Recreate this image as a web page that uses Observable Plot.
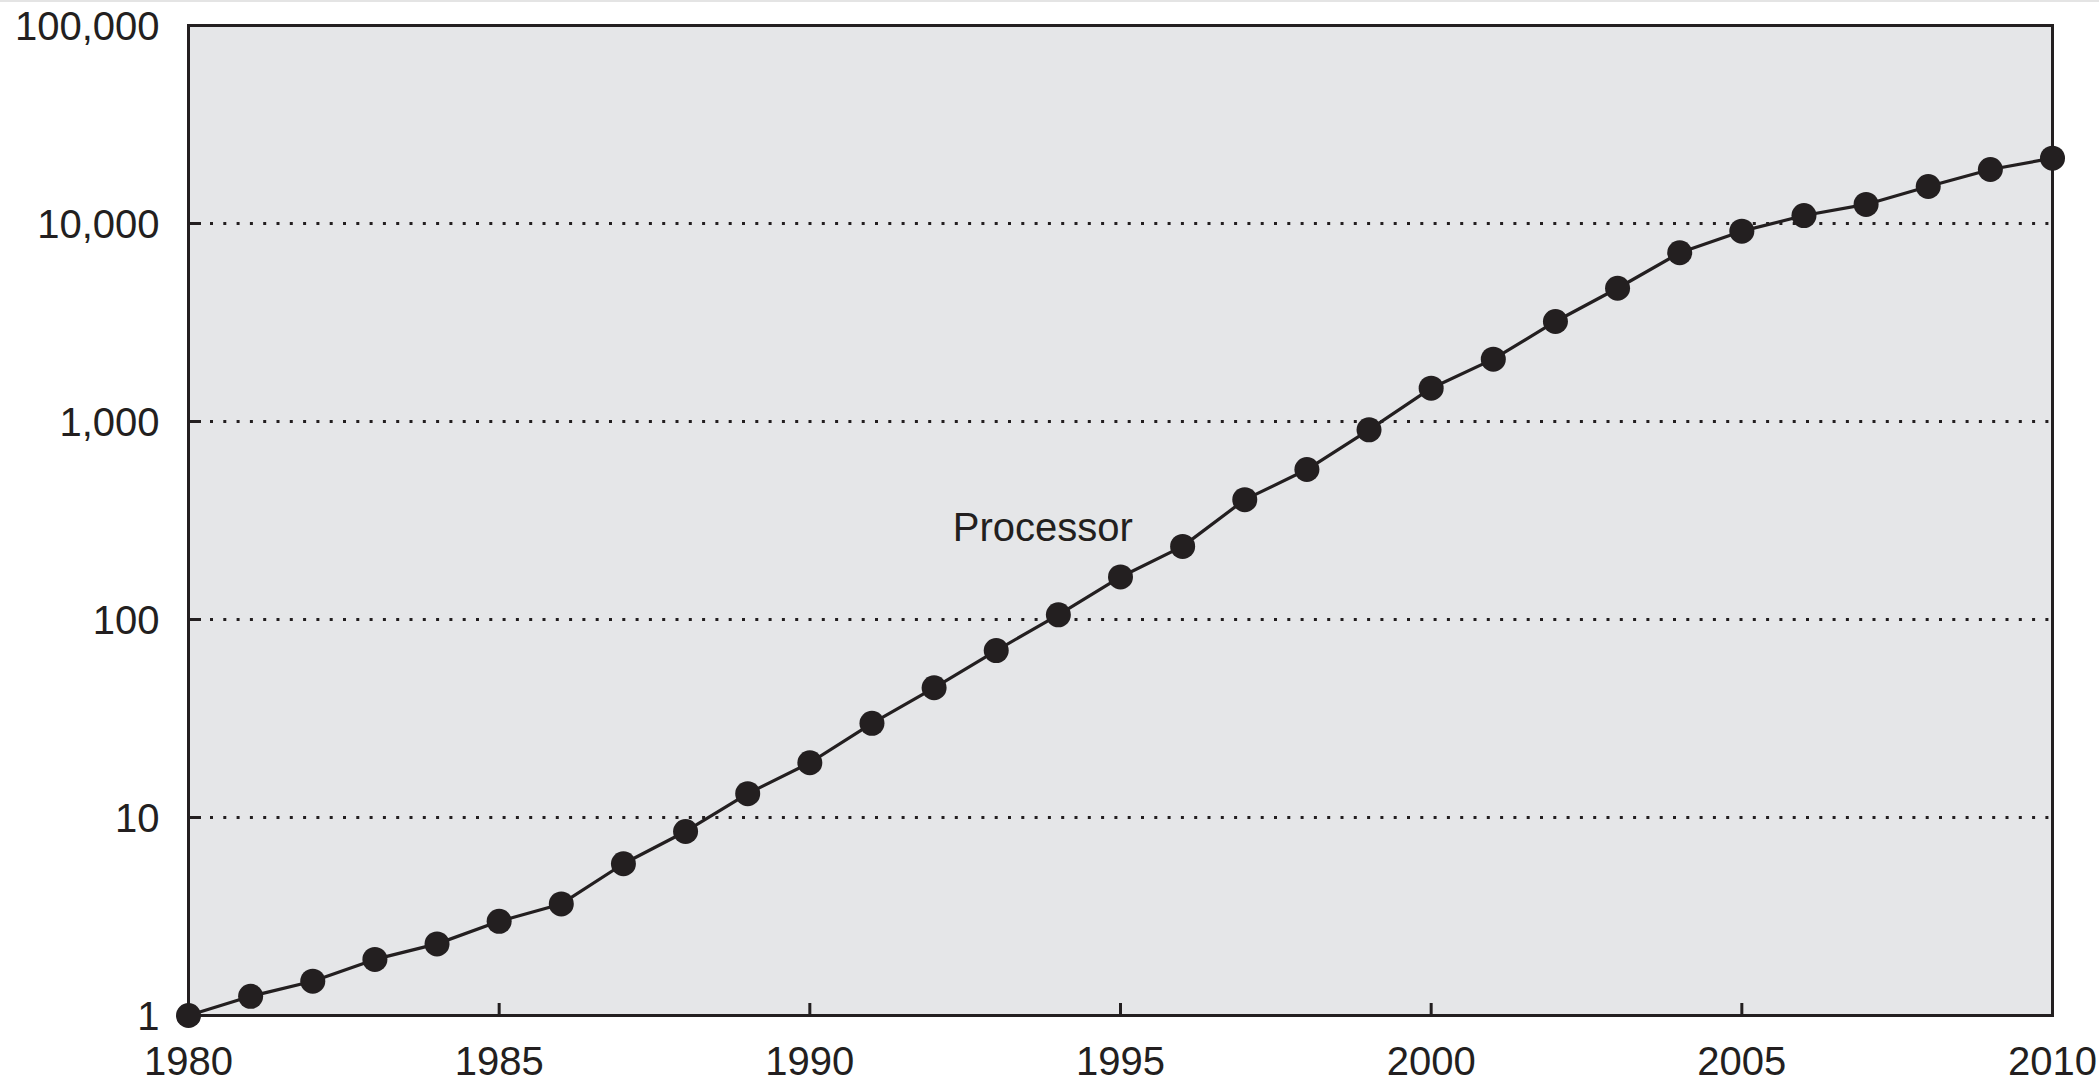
<!DOCTYPE html>
<html>
<head>
<meta charset="utf-8">
<script src="https://cdn.jsdelivr.net/npm/d3@7"></script>
<script src="https://cdn.jsdelivr.net/npm/@observablehq/plot@0.6"></script>
<style>
  html, body { margin: 0; padding: 0; background: #ffffff; }
  body { box-shadow: inset 0 2px 0 #e4e4e4; width: 2099px; height: 1082px; overflow: hidden; }
  #chart svg { display: block; background: transparent; }
</style>
</head>
<body>
<div id="chart"></div>
<script>
// Relative processor performance, 1980 = 1 (log scale)
const years = [
  1980, 1981, 1982, 1983, 1984, 1985, 1986, 1987, 1988, 1989,
  1990, 1991, 1992, 1993, 1994, 1995, 1996, 1997, 1998, 1999,
  2000, 2001, 2002, 2003, 2004, 2005, 2006, 2007, 2008, 2009, 2010
];
const performance = [
  1, 1.25, 1.49, 1.92, 2.3, 2.99, 3.66, 5.84, 8.5, 13.2,
  18.9, 29.9, 45.2, 69.7, 105.6, 164, 234, 403, 572, 908,
  1473, 2065, 3200, 4710, 7115, 9150, 10970, 12480, 15380, 18740, 21380
];

const xTicks = [1980, 1985, 1990, 1995, 2000, 2005, 2010];
const yTicks = [1, 10, 100, 1000, 10000, 100000];
const gridValues = [10, 100, 1000, 10000];

// Series label placed beside the curve
const seriesLabel = ["Processor"];
const labelYear = [1992.3];
const labelValue = [288];

const data = years.map((year, i) => ({year, value: performance[i]}));
const labels = seriesLabel.map((text, i) => ({text, year: labelYear[i], value: labelValue[i]}));

const ink = "#231f20";
const font = "'Liberation Sans', Arial, Helvetica, sans-serif";

const chart = Plot.plot({
  width: 2099,
  height: 1082,
  marginLeft: 188,
  marginRight: 47,
  marginTop: 25,
  marginBottom: 67,
  style: {fontFamily: font, color: ink, background: "transparent"},
  x: {domain: [1980, 2010], label: null},
  y: {type: "log", domain: [1, 100000], label: null},
  marks: [
    Plot.frame({fill: "#e5e6e8"}),
    // dotted horizontal grid
    Plot.ruleY(gridValues, {
      stroke: ink, strokeWidth: 3,
      strokeDasharray: "3 10.3", strokeDashoffset: -8.7
    }),
    // inward ticks on the left edge
    Plot.axisY(gridValues, {
      anchor: "left", label: null, tickSize: 13, dx: 13, strokeWidth: 3, stroke: ink,
      tickFormat: () => ""
    }),
    // inward ticks on the bottom edge
    Plot.axisX(xTicks.slice(1, -1), {
      anchor: "bottom", label: null, tickSize: 12, dy: -12, strokeWidth: 3, stroke: ink,
      tickFormat: () => ""
    }),
    Plot.frame({stroke: ink, strokeWidth: 3}),
    Plot.line(data, {x: "year", y: "value", stroke: ink, strokeWidth: 3.2}),
    Plot.dot(data, {x: "year", y: "value", r: 12.5, fill: ink, stroke: "none"}),
    Plot.text(labels, {
      x: "year", y: "value", text: "text",
      textAnchor: "start", fontSize: 40, fill: ink
    }),
    // tick labels
    Plot.axisY(yTicks, {
      anchor: "left", label: null, tickSize: 0, tickPadding: 29, fontSize: 40, dy: 2,
      fill: ink, tickFormat: d3.format(",")
    }),
    Plot.axisX(xTicks, {
      anchor: "bottom", label: null, tickSize: 0, tickPadding: 31, fontSize: 40,
      fill: ink, tickFormat: d => String(d)
    })
  ]
});

document.getElementById("chart").appendChild(chart);
</script>
</body>
</html>
